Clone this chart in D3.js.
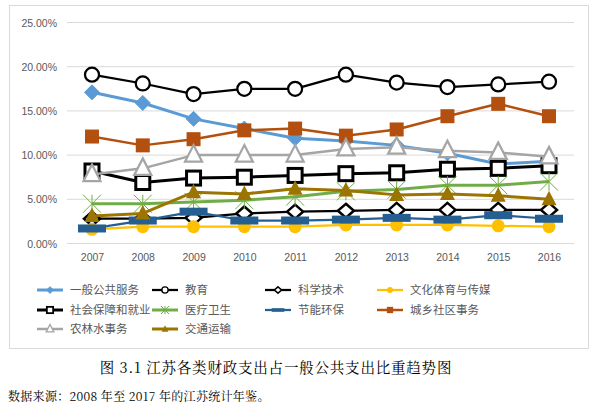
<!DOCTYPE html>
<html><head><meta charset="utf-8">
<script src="https://cdn.jsdelivr.net/npm/d3@7"></script>
<style>body{margin:0;background:#fff}svg{display:block}</style>
</head><body>
<svg id="c" width="603" height="412"></svg>
<script>
const years = ["2007","2008","2009","2010","2011","2012","2013","2014","2015","2016"];
const yTicks = [0,5,10,15,20,25];
const names = ["一般公共服务","教育","科学技术","文化体育与传媒","社会保障和就业","医疗卫生","节能环保","城乡社区事务","农林水事务","交通运输"];
const general   = [17.1,15.9,14.1,13.0,11.9,11.6,11.1,10.2,9.0,9.3];
const education = [19.1,18.1,16.9,17.5,17.5,19.1,18.2,17.7,18.0,18.3];
const science   = [2.8,2.8,2.9,3.4,3.6,3.7,3.8,3.8,3.8,3.8];
const culture   = [1.6,1.9,1.9,1.9,1.9,2.1,2.1,2.1,2.0,1.9];
const social    = [8.2,6.9,7.4,7.5,7.7,7.9,8.0,8.4,8.5,8.8];
const health    = [4.5,4.5,4.7,4.9,5.3,5.9,6.1,6.6,6.6,7.0];
const energy    = [1.7,2.6,3.6,2.6,2.6,2.7,2.9,2.7,3.2,2.8];
const urban     = [12.1,11.1,11.8,12.8,13.0,12.2,12.9,14.4,15.8,14.4];
const agri      = [7.8,8.5,10.0,10.0,10.0,10.7,10.9,10.5,10.3,9.8];
const transport = [3.1,3.4,5.8,5.6,6.2,6.0,5.5,5.6,5.4,5.0];
const caption = "图 3.1  江苏各类财政支出占一般公共支出比重趋势图";
const source = "数据来源：2008 年至 2017 年的江苏统计年鉴。";

const series = [
  {name:names[0], v:general,   color:"#5B9BD5", lw:3,   m:"diamondFill"},
  {name:names[1], v:education, color:"#000000", lw:2.25,m:"circleOpen"},
  {name:names[2], v:science,   color:"#000000", lw:2.25,m:"diamondOpen"},
  {name:names[3], v:culture,   color:"#FFC000", lw:2.25,m:"circleFill"},
  {name:names[4], v:social,    color:"#000000", lw:3,   m:"squareOpen"},
  {name:names[5], v:health,    color:"#70AD47", lw:3,   m:"star"},
  {name:names[6], v:energy,    color:"#255E91", lw:2.25,m:"dash"},
  {name:names[7], v:urban,     color:"#B4500F", lw:2.5, m:"squareFill"},
  {name:names[8], v:agri,      color:"#A5A5A5", lw:2.5, m:"triangleOpen"},
  {name:names[9], v:transport, color:"#9C7400", lw:3,   m:"triangleFill"}
];

const svg = d3.select("#c");
svg.append("rect").attr("x",9.5).attr("y",5.5).attr("width",579).attr("height",343)
  .attr("fill","#fff").attr("stroke","#D9D9D9").attr("stroke-width",1);

const x = d3.scalePoint().domain(years).range([92,549]);
const y = d3.scaleLinear().domain([0,25]).range([243.5,22.5]);

const g = svg.append("g");
g.selectAll("line.grid").data(yTicks).join("line")
  .attr("x1",67).attr("x2",574).attr("y1",d=>y(d)).attr("y2",d=>y(d))
  .attr("stroke","#D9D9D9").attr("stroke-width",1);

const yAxis = d3.axisLeft(y).tickValues(yTicks).tickSize(0).tickPadding(0)
  .tickFormat(d=>d.toFixed(2)+"%");
const ya = svg.append("g").attr("transform","translate(57,0)").call(yAxis);
ya.select(".domain").remove();
ya.selectAll("text").attr("font-family","Liberation Sans, Arial, sans-serif").attr("font-size",10.5).attr("fill","#595959").attr("dy","0.35em");

const xAxis = d3.axisBottom(x).tickSize(0).tickPadding(0);
const xa = svg.append("g").attr("transform","translate(0,254)").call(xAxis);
xa.select(".domain").remove();
xa.selectAll("text").attr("font-family","Liberation Sans, Arial, sans-serif").attr("font-size",10.5).attr("fill","#595959").attr("dy","0.71em");

function drawMarker(sel, type, color, s){
  const k = s;
  if(type==="diamondFill"){
    sel.append("path").attr("d",`M0,${-7.5*k}L${7.5*k},0L0,${7.5*k}L${-7.5*k},0Z`).attr("fill",color).attr("stroke",color).attr("stroke-width",1);
  } else if(type==="diamondOpen"){
    sel.append("path").attr("d",`M0,${-7*k}L${8*k},0L0,${7*k}L${-8*k},0Z`).attr("fill","#fff").attr("stroke",color).attr("stroke-width",2.5*Math.max(k,0.6));
  } else if(type==="circleOpen"){
    sel.append("circle").attr("r",7*k).attr("fill","#fff").attr("stroke",color).attr("stroke-width",2.25*Math.max(k,0.6));
  } else if(type==="circleFill"){
    sel.append("circle").attr("r",6.5*k).attr("fill",color);
  } else if(type==="squareOpen"){
    sel.append("rect").attr("x",-7*k).attr("y",-7*k).attr("width",14*k).attr("height",14*k).attr("fill","#fff").attr("stroke",color).attr("stroke-width",3*Math.max(k,0.6));
  } else if(type==="squareFill"){
    sel.append("rect").attr("x",-7*k).attr("y",-7*k).attr("width",14*k).attr("height",14*k).attr("fill",color);
  } else if(type==="triangleOpen"){
    sel.append("path").attr("d",`M0,${-10*k}L${8.5*k},${6.5*k}L${-8.5*k},${6.5*k}Z`).attr("fill","#fff").attr("stroke",color).attr("stroke-width",2.25*Math.max(k,0.6));
  } else if(type==="triangleFill"){
    sel.append("path").attr("d",`M0,${-8.5*k}L${7.5*k},${6*k}L${-7.5*k},${6*k}Z`).attr("fill",color);
  } else if(type==="star"){
    const r=9*k;
    const d=`M${-r},${-r}L${r},${r}M${-r},${r}L${r},${-r}M0,${-r}L0,${r}`;
    sel.append("path").attr("d",d).attr("stroke",color).attr("stroke-width",1).attr("fill","none");
  } else if(type==="dash"){
    sel.append("rect").attr("x",-14*k).attr("y",-4*k).attr("width",28*k).attr("height",8*k).attr("fill",color);
  }
}

const line = d3.line().x((d,i)=>x(years[i])).y(d=>y(d));
series.forEach(s=>{
  const sg = svg.append("g");
  sg.append("path").datum(s.v).attr("d",line).attr("fill","none")
    .attr("stroke",s.color).attr("stroke-width",s.lw).attr("stroke-linejoin","round");
  s.v.forEach((v,i)=>{
    const mg = sg.append("g").attr("transform",`translate(${x(years[i])},${y(v)})`);
    drawMarker(mg, s.m, s.color, 1);
  });
});

const colX = [37,152,265,377];
const rowY = [290,310,329];
const lg = svg.append("g");
series.forEach((s,i)=>{
  const c = i%4, r = Math.floor(i/4);
  const gx = colX[c], gy = rowY[r];
  const it = lg.append("g").attr("transform",`translate(${gx},${gy})`);
  it.append("line").attr("x1",0).attr("x2",26).attr("y1",0).attr("y2",0).attr("stroke",s.color).attr("stroke-width",s.lw);
  const mg = it.append("g").attr("transform","translate(13,0)");
  drawMarker(mg, s.m, s.color, 0.45);
  it.append("text").attr("x",33).attr("y",0).attr("dy","0.36em")
    .attr("font-family","Noto Sans CJK SC, sans-serif").attr("font-size",11.5).attr("fill","#595959").text(s.name);
});

svg.append("text").attr("x",276).attr("y",368).attr("text-anchor","middle").attr("dy","0.36em")
  .attr("font-family","Noto Serif CJK SC, serif").attr("font-size",14.5).attr("letter-spacing","0.8px").attr("fill","#000").text(caption);
svg.append("text").attr("x",8).attr("y",397).attr("dy","0.36em")
  .attr("font-family","Noto Serif CJK SC, serif").attr("font-size",12).attr("letter-spacing","0.3px").attr("fill","#000").text(source);
</script>
</body></html>
